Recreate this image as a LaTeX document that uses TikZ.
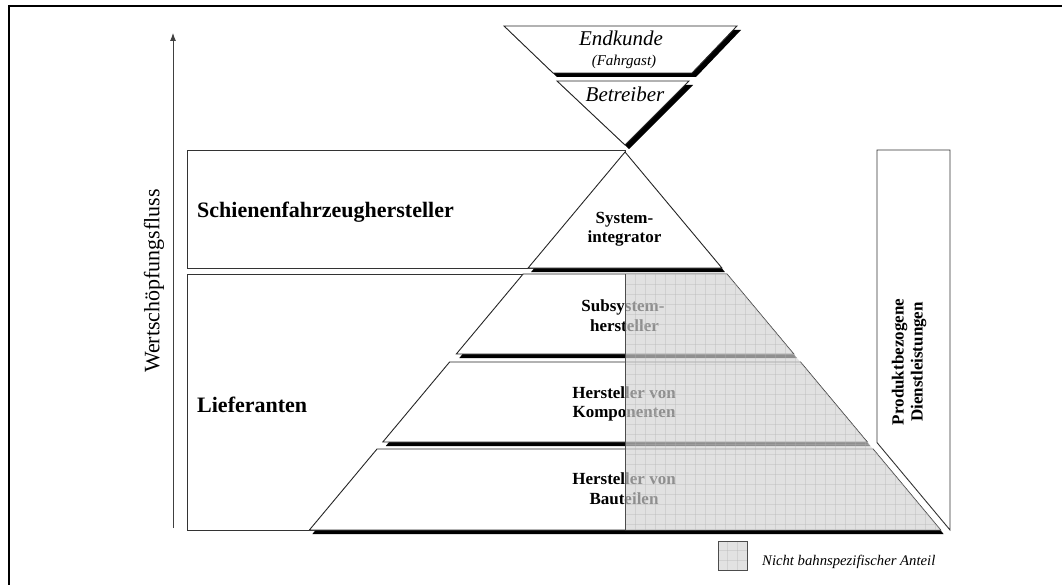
\documentclass[tikz,border=0pt]{standalone}
\usepackage{fontspec}
\setmainfont{Liberation Serif}
\usetikzlibrary{arrows.meta}

\tikzset{
  edge/.style={draw=black!85, line width=0.9pt, line join=miter},
  face/.style={edge, fill=white},
  shade/.style={fill=black},
  framebox/.style={draw=black!80, line width=0.9pt},
  biglabel/.style={font=\fontsize{22}{24}\selectfont\bfseries, inner sep=0pt},
  steplabel/.style={font=\fontsize{17}{19}\selectfont\bfseries, inner sep=0pt, anchor=base},
  toplabel/.style={font=\fontsize{21}{23}\selectfont\itshape, inner sep=0pt, anchor=base},
  greyzone/.style={fill=black!17, fill opacity=0.68},
  gridline/.style={draw=black!30, draw opacity=0.35, line width=0.5pt},
}

\begin{document}
\begin{tikzpicture}[x=1pt, y=-1pt]
\useasboundingbox (0,0) rectangle (1062,585);

% outer frame (top and left rules)
\draw[line width=2pt] (8,6) -- (1062,6);
\draw[line width=2pt] (9,5) -- (9,585);

% value-flow arrow with its caption
\coordinate (flow-foot) at (173,528);
\coordinate (flow-head) at (173,33);
\draw[draw=black!75, line width=0.9pt, -{Latex[length=8pt,width=6pt]}] (flow-foot) -- (flow-head);
\node[font=\fontsize{22}{24}\selectfont, rotate=90, inner sep=0pt] (flow-label) at (154,281) {Wertschöpfungsfluss};

% side boxes
\draw[framebox] (187,150) rectangle (625,268);
\draw[framebox] (187,274) rectangle (625,530);
\node[biglabel, anchor=base west] (oem) at (197,218) {Schienenfahrzeughersteller};
\node[biglabel, anchor=base west] (suppliers) at (197,412) {Lieferanten};

% service box on the right
\draw[framebox, fill=white] (877,150) -- (950,150) -- (950,530) -- (877,442.6) -- cycle;
\node[font=\fontsize{17}{19}\selectfont\bfseries, rotate=90, align=center, inner sep=0pt]
  (service) at (909,362) {Produktbezogene\\Dienstleistungen};

% inverted pyramid: customer and operator
\begin{scope}[shift={(4,4)}]
  \fill[shade] (504,26) -- (737,26) -- (692,73) -- (553,73) -- cycle;
  \fill[shade] (557,81) -- (689,81) -- (625,145) -- cycle;
\end{scope}
\path[face] (504,26) -- (737,26) -- (692,73) -- (553,73) -- cycle;
\path[face] (557,81) -- (689,81) -- (625,145) -- cycle;
\node[toplabel] (customer) at (621,46) {Endkunde};
\node[toplabel, font=\fontsize{15}{17}\selectfont\itshape] (passenger) at (624,66) {(Fahrgast)};
\node[toplabel] (operator) at (625,101.5) {Betreiber};

% supplier pyramid: shadows first, then the white layers
\begin{scope}[shift={(3,4)}]
  \fill[shade] (625,152) -- (721.9,268) -- (528.1,268) -- cycle;
  \fill[shade] (523.1,274) -- (726.9,274) -- (793.7,354) -- (456.3,354) -- cycle;
  \fill[shade] (449.6,362) -- (800.4,362) -- (867.2,442) -- (382.8,442) -- cycle;
  \fill[shade] (377,449) -- (873,449) -- (940.6,530) -- (309.4,530) -- cycle;
\end{scope}
\path[face] (625,152) -- (721.9,268) -- (528.1,268) -- cycle;
\path[face] (523.1,274) -- (726.9,274) -- (793.7,354) -- (456.3,354) -- cycle;
\path[face] (449.6,362) -- (800.4,362) -- (867.2,442) -- (382.8,442) -- cycle;
\path[face] (377,449) -- (873,449) -- (940.6,530) -- (309.4,530) -- cycle;

% layer captions
\node[steplabel] (sys-a) at (624.5,224) {System-};
\node[steplabel] (sys-b) at (624.5,243) {integrator};
\node[steplabel] (sub-a) at (623,311) {Subsystem-};
\node[steplabel] (sub-b) at (624.5,331) {hersteller};
\node[steplabel] (comp-a) at (624,398) {Hersteller von};
\node[steplabel] (comp-b) at (624,417) {Komponenten};
\node[steplabel] (part-a) at (624,484) {Hersteller von};
\node[steplabel] (part-b) at (624,504) {Bauteilen};

% share that is not rail specific: tinted grid over the right half
\begin{scope}
  \clip (625,274) -- (726.9,274) -- (940.6,530) -- (625,530) -- cycle;
  \fill[greyzone] (620,270) rectangle (950,535);
  \foreach \k in {1,...,32} \draw[gridline] (625+10*\k,270) -- (625+10*\k,535);
  \foreach \k in {1,...,25} \draw[gridline] (620,274+10*\k) -- (950,274+10*\k);
\end{scope}
\draw[draw=black!70, line width=0.8pt] (625,274) -- (625,530);

% legend
\begin{scope}
  \clip (718,541) rectangle (747,570);
  \fill[greyzone] (718,541) rectangle (747,570);
  \foreach \k in {1,2} {
    \draw[gridline] (718+9.67*\k,541) -- (718+9.67*\k,570);
    \draw[gridline] (718,541+9.67*\k) -- (747,541+9.67*\k);
  }
\end{scope}
\draw[draw=black!70, line width=0.8pt] (718,541) rectangle (747,570);
\node[font=\fontsize{14.7}{16}\selectfont\itshape, anchor=base west, inner sep=0pt]
  (legend) at (762,565) {Nicht bahnspezifischer Anteil};
\end{tikzpicture}
\end{document}
